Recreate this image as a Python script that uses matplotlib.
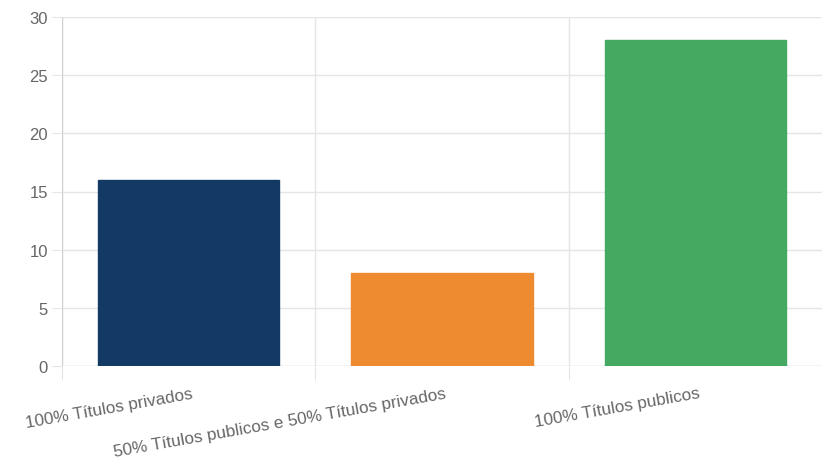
import matplotlib
matplotlib.use("Agg")
import matplotlib.pyplot as plt

categories = ["100% Títulos privados", "50% Títulos publicos e 50% Títulos privados", "100% Títulos publicos"]
values = [16, 8, 28]
colors = ["#123a64", "#ee8b31", "#46a961"]
yticks = [0, 5, 10, 15, 20, 25, 30]

plt.rcParams['font.family'] = ['Liberation Sans', 'DejaVu Sans']

fig = plt.figure(figsize=(8.25, 4.64), dpi=100)
ax = fig.add_axes([62/825, 1-367/464, (822-62)/825, (367-18)/464])

x = list(range(len(categories)))
ax.bar(x, values, width=0.715, color=colors, edgecolor=colors, linewidth=1, zorder=3)

ax.set_xlim(-0.5, len(categories) - 0.5)
ax.set_ylim(0, 30)
ax.set_yticks(yticks)
ax.set_yticklabels([str(v) for v in yticks], fontsize=12, color="#666666")

grid_c = "#e5e5e5"
for yv in yticks:
    ax.axhline(yv, color=grid_c if yv else "#c8c8c8", linewidth=1, zorder=1)
for b in [-0.5, 0.5, 1.5]:
    ax.axvline(b, color=grid_c if b != -0.5 else "#d0d0d0", linewidth=1, zorder=1)

for s in ax.spines.values():
    s.set_visible(False)

ax.tick_params(axis='y', length=7, color=grid_c, pad=3)
ax.set_xticks([-0.5, 0.5, 1.5])
ax.set_xticklabels([])
ax.tick_params(axis='x', length=10, color=grid_c)

for xi, lab in zip(x, categories):
    ax.annotate(lab, xy=(xi, 0), xycoords='data', xytext=(2, -14), textcoords='offset points',
                ha='right', va='top', rotation=10, rotation_mode='anchor',
                fontsize=12.3, color="#666666", annotation_clip=False)

fig.savefig("out.png", dpi=100)
